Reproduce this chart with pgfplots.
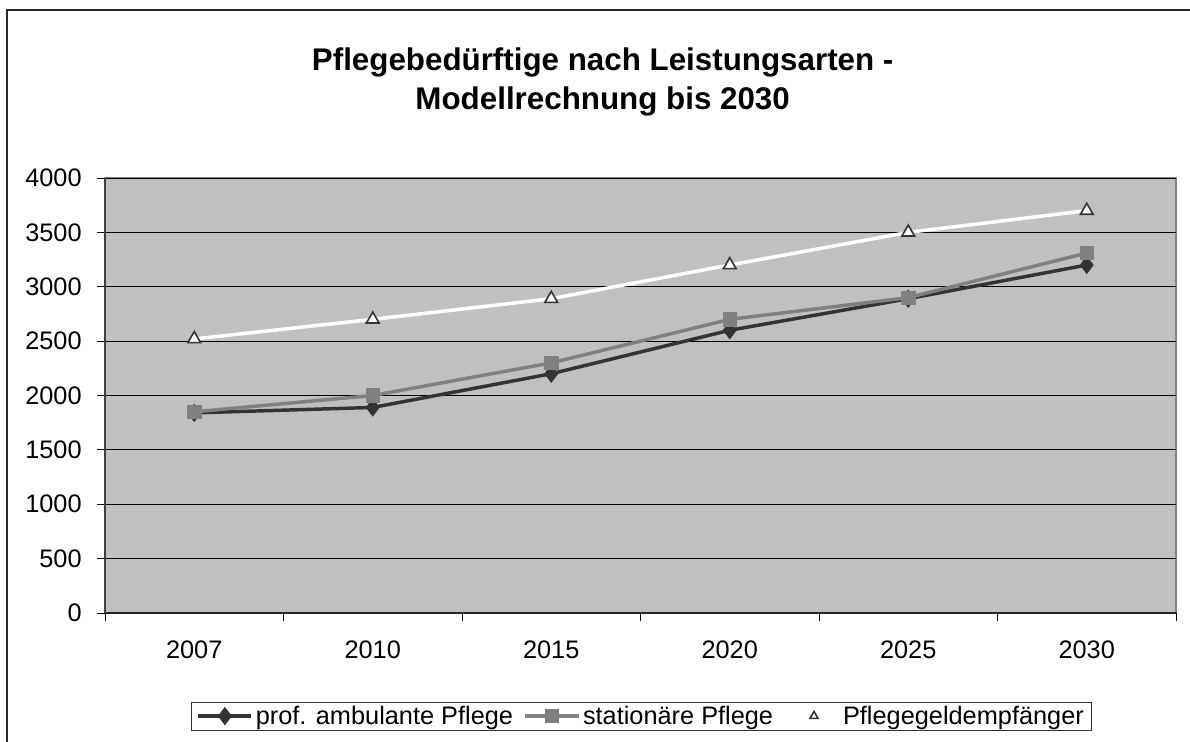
\documentclass[border=0pt]{standalone}
\usepackage{pgfplots}
\pgfplotsset{compat=1.18}
\usepackage{fontspec}
\setmainfont{Liberation Sans}
\definecolor{plotbg}{RGB}{192,192,192}
\definecolor{ambcol}{RGB}{51,51,51}
\definecolor{statcol}{RGB}{128,128,128}

\begin{document}
\begin{tikzpicture}
\useasboundingbox (0,0) rectangle (892.5pt,556.5pt);
% outer chart frame (left and top edges visible)
\draw[line width=1.1pt, black!85] (5.25pt,0pt) -- (5.25pt,549pt) -- (893pt,549pt);

\node[align=center, font=\fontsize{23.5}{29}\selectfont\bfseries] at (452pt,495pt)
  {Pflegebedürftige nach Leistungsarten -\\Modellrechnung bis 2030};

\begin{axis}[
  at={(78.75pt,96.75pt)}, anchor=south west,
  scale only axis, width=803.25pt, height=326.25pt,
  xmin=-0.5, xmax=5.5, ymin=0, ymax=4000,
  xtick={0,...,5},
  xticklabels={2007,2010,2015,2020,2025,2030},
  minor xtick={-0.5,0.5,...,5.5},
  ytick={0,500,...,4000},
  major x tick style={draw=none},
  tick align=outside,
  major tick length=6pt, minor tick length=6pt,
  tick style={black, line width=0.6pt},
  ymajorgrids, major grid style={black, line width=0.6pt},
  axis x line*=bottom, axis y line*=left,
  x axis line style={black!85, line width=0.8pt, -},
  y axis line style={black!75, line width=0.8pt, -},
  axis background/.style={fill=plotbg, draw=statcol, line width=1pt},
  ticklabel style={font=\fontsize{19}{22}\selectfont},
  /pgf/number format/assume math mode=true,
  /pgf/number format/set thousands separator={},
  xticklabel style={yshift=-11pt},
  yticklabel style={xshift=-8pt},
  legend columns=3,
  legend style={at={(0.501,-0.237)}, anchor=center, draw=black!80,
    line width=0.6pt, font=\fontsize{19}{22}\selectfont,
    inner xsep=4pt, inner ysep=1pt,
    /tikz/every even column/.append style={column sep=6pt}},
  legend cell align=left,
  legend image code/.code={%
    \draw[mark repeat=2, mark phase=2] plot coordinates {(0cm,0cm) (0.7cm,0cm) (1.4cm,0cm)};},
]
\addplot[color=ambcol, line width=2.6pt, mark=diamond*, mark size=6.5pt,
  mark options={fill=ambcol, solid, line width=0.5pt}]
  coordinates {(0,1840) (1,1890) (2,2200) (3,2600) (4,2890) (5,3200)};
\addlegendentry{prof. ambulante Pflege}
\addplot[color=statcol, line width=2.6pt, mark=square*, mark size=5pt,
  mark options={fill=statcol, solid, line width=0.5pt}]
  coordinates {(0,1850) (1,2000) (2,2300) (3,2700) (4,2900) (5,3310)};
\addlegendentry{stationäre Pflege}
\addplot[color=white, line width=2.6pt, mark=triangle*, mark size=5.5pt,
  mark options={fill=white, draw=ambcol, line width=1.2pt, solid},
  legend image code/.code={%
    \path (0cm,0cm) -- (1.4cm,0cm);
    \draw[ambcol, fill=white, line width=0.6pt] plot[mark=triangle*, mark size=3.5pt]
      coordinates {(0.75cm,0cm)};}]
  coordinates {(0,2520) (1,2700) (2,2890) (3,3200) (4,3500) (5,3700)};
\addlegendentry{Pflegegeldempfänger}
\end{axis}
\end{tikzpicture}
\end{document}
